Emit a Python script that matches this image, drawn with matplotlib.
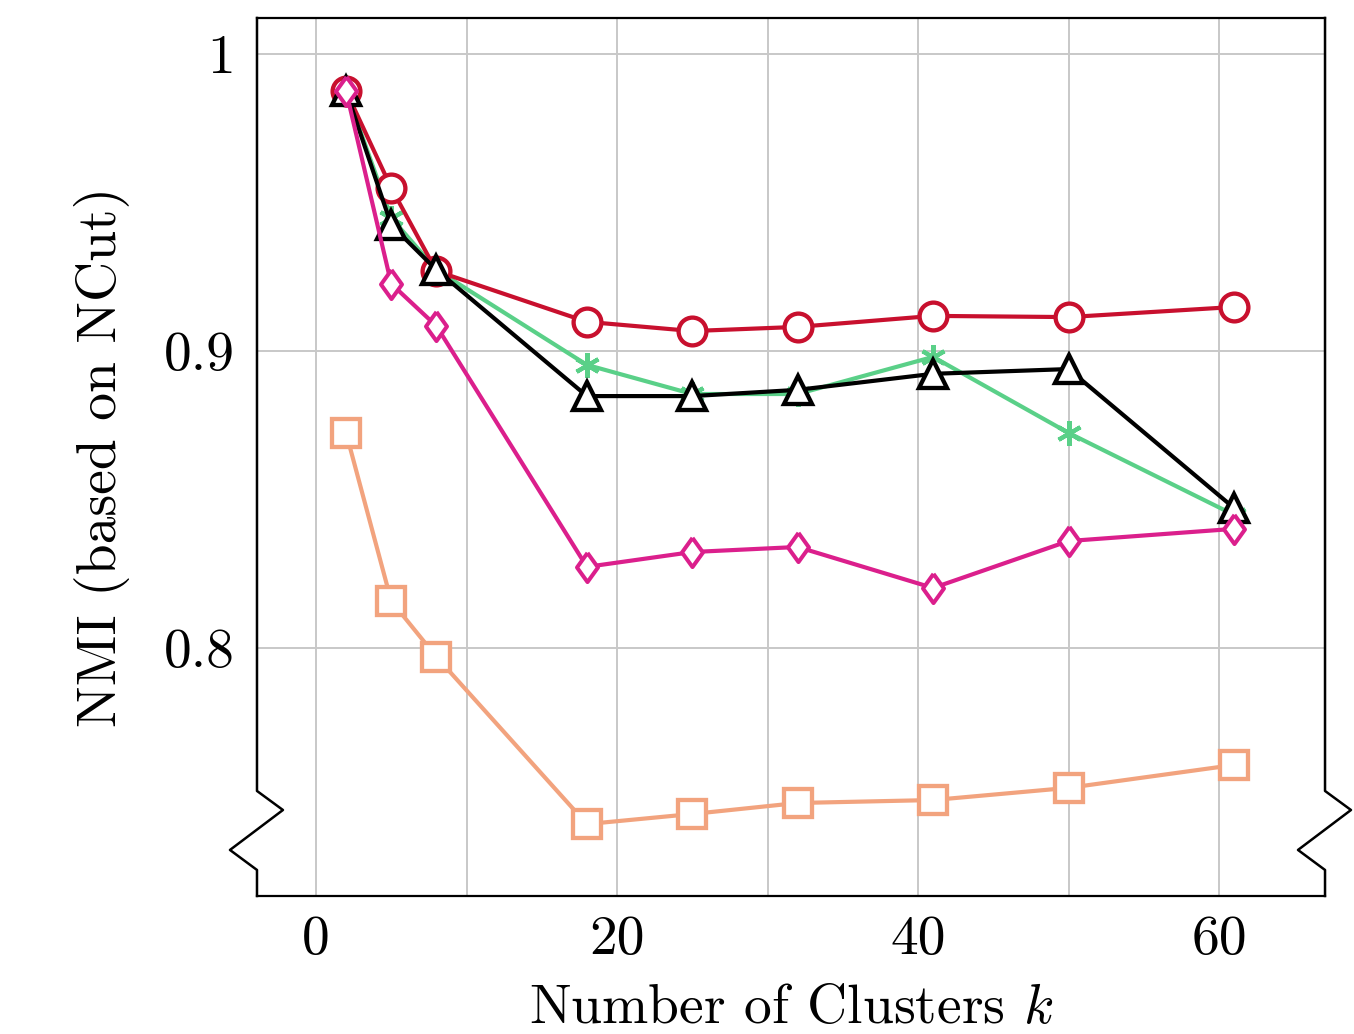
import matplotlib
matplotlib.use('Agg')
import matplotlib.pyplot as plt

# number of clusters k
k_values = [2, 5, 8, 18, 25, 32, 41, 50, 61]

# NMI values
nmi_red = [0.9875, 0.9549, 0.9269, 0.9098, 0.9067, 0.9081, 0.9118, 0.9114, 0.9148]
nmi_black = [0.9875, 0.9424, 0.9273, 0.8848, 0.8848, 0.8869, 0.8923, 0.8939, 0.8471]
nmi_green = [0.9875, 0.9448, 0.9273, 0.8953, 0.8855, 0.8855, 0.8980, 0.8724, 0.8448]
nmi_magenta = [0.9875, 0.9226, 0.9084, 0.8273, 0.8323, 0.8340, 0.8202, 0.8360, 0.8401]
nmi_orange = [0.8724, 0.8158, 0.7970, 0.7407, 0.7441, 0.7478, 0.7488, 0.7529, 0.7606]

x_ticks = [0, 20, 40, 60]
x_ticklabels = ['0', '20', '40', '60']
y_ticks = [0.8, 0.9, 1.0]
y_ticklabels = ['0.8', '0.9', '1']

plt.rcParams.update({
    'font.family': 'serif',
    'font.serif': ['cmr10'],
    'mathtext.fontset': 'cm',
    'axes.unicode_minus': False,
    'font.size': 40,
})

fig = plt.figure(figsize=(13.54, 10.34), dpi=100)
ax = fig.add_axes([0.1898, 0.1335, 0.7888, 0.8491])

diamond = [(0, 1), (0.72, 0), (0, -1), (-0.72, 0), (0, 1)]

ax.plot(k_values, nmi_green, '-', color='#5AD088', lw=3.0, marker=(6, 2, 0), ms=18,
        mec='#5AD088', mew=3.0, zorder=3)
ax.plot(k_values, nmi_red, '-', color='#C8102E', lw=3.0, marker='o', ms=20,
        mfc='white', mec='#C8102E', mew=3.1, zorder=3)
ax.plot(k_values, nmi_black, '-', color='black', lw=3.0, marker='^', ms=20,
        mfc='white', mec='black', mew=3.1, zorder=3)
ax.plot(k_values, nmi_magenta, '-', color='#DB1F8C', lw=3.0, marker=diamond, ms=21,
        mfc='white', mec='#DB1F8C', mew=2.9, zorder=3)
ax.plot(k_values, nmi_orange, '-', color='#F2A37E', lw=3.0, marker='s', ms=20,
        mfc='white', mec='#F2A37E', mew=3.1, zorder=3)

ax.set_xlim(-3.92, 67.04)
ax.set_ylim(0.7165, 1.0121)

ax.set_xticks(x_ticks)
ax.set_xticklabels(x_ticklabels)
ax.set_xticks(range(0, 61, 10), minor=True)
ax.set_yticks(y_ticks)
ax.set_yticklabels(y_ticklabels)
ax.tick_params(axis='both', which='both', length=0)
ax.tick_params(axis='x', pad=14)
ax.tick_params(axis='y', pad=16)

ax.grid(True, which='both', color='#c8c8c8', lw=1.4)
ax.set_axisbelow(True)

ax.set_xlabel('Number of Clusters $k$', labelpad=14)
ax.set_ylabel('NMI (based on NCut)', labelpad=24)

# spines, with the axis break (zigzag) on left and right
ax.spines['left'].set_visible(False)
ax.spines['right'].set_visible(False)
ax.spines['top'].set_linewidth(1.6)
ax.spines['bottom'].set_linewidth(1.6)
zig_y = [0.0, 0.0296, 0.0524, 0.0979, 0.1196, 1.0]
zig_dx = [0, 0, -0.0253, 0.0243, 0, 0]
ax.plot([0 + d for d in zig_dx], zig_y, color='black', lw=1.8,
        transform=ax.transAxes, clip_on=False, zorder=5)
ax.plot([1 + d for d in zig_dx], zig_y, color='black', lw=1.8,
        transform=ax.transAxes, clip_on=False, zorder=5)

fig.savefig('out.png', dpi=100)
